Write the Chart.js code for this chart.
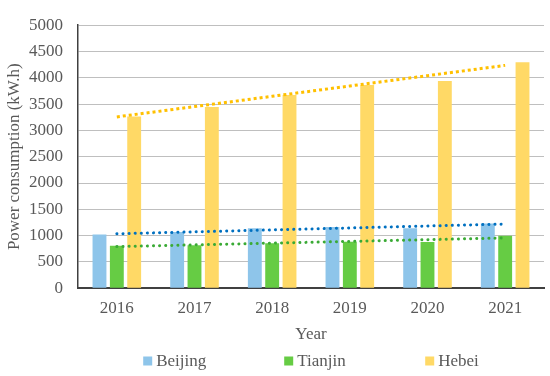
<!DOCTYPE html>
<html>
<head>
<meta charset="utf-8">
<script src="https://cdn.jsdelivr.net/npm/chart.js@4.4.0/dist/chart.umd.min.js"></script>
<style>
  html, body { margin: 0; padding: 0; background: #fff; }
  #wrap { width: 550px; height: 376px; }
</style>
</head>
<body>
<div id="wrap"><canvas id="powerChart" width="550" height="376"></canvas></div>
<script>
// data
const years = ['2016', '2017', '2018', '2019', '2020', '2021'];
const beijing = [1020, 1067, 1140, 1164, 1140, 1231];
const tianjin = [807, 818, 855, 885, 880, 995];
const hebei = [3262, 3444, 3673, 3862, 3940, 4298];
const yTicks = [0, 500, 1000, 1500, 2000, 2500, 3000, 3500, 4000, 4500, 5000];

// linear trendline (least squares) like the spreadsheet one
function trend(values) {
    const n = values.length;
    const mx = (n - 1) / 2;
    const my = values.reduce((a, b) => a + b, 0) / n;
    let sxy = 0, sxx = 0;
    values.forEach((v, i) => { sxy += (i - mx) * (v - my); sxx += (i - mx) * (i - mx); });
    const slope = sxy / sxx;
    return values.map((v, i) => my + slope * (i - mx));
}

const textColor = '#595959';
const serif = "'Liberation Serif', 'Times New Roman', serif";

function trendSet(label, values, color, dash, cap, width) {
    return {
        type: 'line',
        label: label,
        data: trend(values),
        borderColor: color,
        borderWidth: width,
        borderDash: dash,
        borderCapStyle: cap,
        pointRadius: 0,
        fill: false,
        order: 0
    };
}

// legend drawn by hand: the builtin one puts its padding above and below too
const slotLegend = {
    id: 'slotLegend',
    afterDraw(chart) {
        const ctx = chart.ctx;
        const area = chart.chartArea;
        const bars = chart.data.datasets.filter(d => d.type !== 'line');
        const step = 141, box = 9, gap = 4;
        ctx.save();
        ctx.font = '17px ' + serif;
        const lastW = box + gap + ctx.measureText(bars[bars.length - 1].label).width;
        const total = step * (bars.length - 1) + lastW;
        let x = (area.left + area.right) / 2 - total / 2;
        const y = 361;
        ctx.textBaseline = 'middle';
        bars.forEach(d => {
            ctx.fillStyle = d.backgroundColor;
            ctx.fillRect(x, y - box / 2, box, box);
            ctx.fillStyle = textColor;
            ctx.fillText(d.label, x + box + gap, y + 1);
            x += step;
        });
        ctx.restore();
    }
};

new Chart(document.getElementById('powerChart'), {
    type: 'bar',
    data: {
        labels: years,
        datasets: [
            { label: 'Beijing', data: beijing, backgroundColor: '#8EC5EA', order: 1 },
            { label: 'Tianjin', data: tianjin, backgroundColor: '#66CC44', order: 1 },
            { label: 'Hebei', data: hebei, backgroundColor: '#FFD966', order: 1 },
            trendSet('Beijing trend', beijing, '#0070C0', [0.1, 6], 'round', 3),
            trendSet('Tianjin trend', tianjin, '#3AAA35', [0.1, 6], 'round', 3),
            trendSet('Hebei trend', hebei, '#FFC000', [3, 3], 'butt', 3)
        ]
    },
    plugins: [slotLegend],
    options: {
        responsive: false,
        animation: false,
        datasets: {
            bar: { categoryPercentage: 0.67, barPercentage: 0.8 }
        },
        layout: { padding: { left: 0, right: 6, top: -11, bottom: 31 } },
        plugins: {
            legend: { display: false },
            tooltip: { enabled: false }
        },
        scales: {
            x: {
                grid: { display: false, drawTicks: false },
                border: { color: '#404040', width: 2 },
                ticks: { font: { family: serif, size: 17 }, color: textColor, padding: 10 },
                title: {
                    display: true,
                    text: 'Year',
                    font: { family: serif, size: 17 },
                    color: textColor,
                    padding: { top: -4, bottom: 0 }
                }
            },
            y: {
                min: 0,
                max: 5000,
                afterBuildTicks: axis => { axis.ticks = yTicks.map(v => ({ value: v })); },
                afterFit: axis => { axis.width = 78; },
                grid: { color: '#BFBFBF', lineWidth: 1, drawTicks: false },
                border: { color: '#404040', width: 1.5 },
                ticks: {
                    font: { family: serif, size: 17 },
                    color: textColor,
                    padding: 15,
                    callback: v => String(v)
                },
                title: {
                    display: true,
                    text: 'Power consumption (kW.h)',
                    font: { family: serif, size: 17 },
                    color: textColor,
                    padding: { top: 4, bottom: 0 }
                }
            }
        }
    }
});
</script>
</body>
</html>
